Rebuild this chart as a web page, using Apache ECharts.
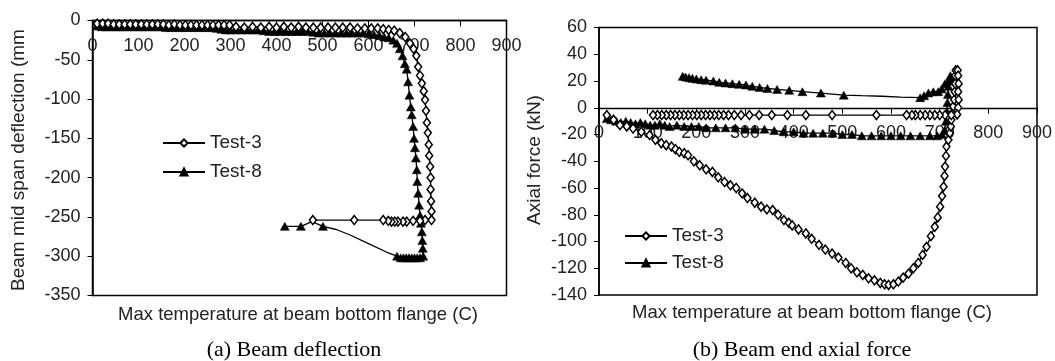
<!DOCTYPE html>
<html>
<head>
<meta charset="utf-8">
<script src="https://cdn.jsdelivr.net/npm/echarts@6/dist/echarts.min.js"></script>
<style>
html,body{margin:0;padding:0;background:#fff;}
#c{width:1055px;height:361px;}
</style>
</head>
<body>
<div id="c"></div>
<script>
// ---- data (x = max temperature at beam bottom flange, C) ----
// a third element 0 = point on the curve without a marker
const seriesNames = ['Test-3', 'Test-8'];
const xTicks = [0, 100, 200, 300, 400, 500, 600, 700, 800, 900];
const defTicks = [0, -50, -100, -150, -200, -250, -300, -350];
const forceTicks = [60, 40, 20, 0, -20, -40, -60, -80, -100, -120, -140];

// (a) Beam mid span deflection (mm)
const defTest3 = [[10,-4],[22,-4],[34,-4],[46,-5],[58,-5],[70,-5],[82,-5],[94,-5],[106,-5],[118,-5],[130,-5],[142,-5],[154,-5],[166,-6],[178,-5],[190,-6],[202,-6],[214,-6],[226,-6],[238,-6],[250,-6],[262,-6],[274,-6],[286,-6],[298,-6],[312,-8],[330,-9],[348,-8],[366,-9],[384,-8],[400,-9],[416,-8],[432,-9],[448,-8],[464,-9],[480,-9],[496,-9],[512,-9],[528,-9],[544,-9],[560,-9],[576,-10],[592,-10],[606,-10],[620,-10],[632,-11],[644,-12],[656,-13],[668,-16],[680,-21],[690,-29],[698,-36],[704,-45],[708,-59],[712,-70],[716,-80],[720,-90],[723,-101],[725,-115],[727,-130],[729,-143],[731,-158],[732,-172],[734,-186],[735,-200],[735,-215],[736,-230],[737,-243],[737,-254],[723,-254],[712,-255],[697,-255],[683,-256],[675,-256],[664,-256],[657,-256],[650,-256],[643,-255],[632,-254],[569,-254],[479,-254]];
const defTest8 = [[10,-7],[20,-8],[30,-8],[40,-8],[50,-8],[60,-8],[70,-8],[80,-8],[90,-8],[100,-8],[110,-8],[120,-8],[130,-8],[140,-8],[150,-8],[160,-9],[170,-9],[180,-9],[190,-9],[200,-9],[210,-9],[220,-9],[230,-9],[240,-9],[250,-9],[260,-9],[270,-10],[280,-11],[290,-12],[300,-12],[312,-12],[324,-12],[336,-12],[348,-12],[360,-12],[372,-13],[384,-14],[396,-14],[408,-14],[420,-14],[432,-14],[444,-14],[456,-14],[468,-14],[480,-15],[492,-16],[504,-16],[516,-16],[528,-16],[540,-16],[552,-16],[564,-16],[576,-16],[588,-16],[600,-17],[612,-18],[624,-19],[634,-21],[644,-22],[654,-25],[662,-29],[668,-36],[674,-45],[679,-55],[683,-62],[686,-78],[689,-95],[692,-110],[694,-120],[697,-135],[699,-150],[701,-162],[703,-175],[705,-190],[706,-205],[708,-220],[710,-235],[712,-248],[714,-258],[716,-269],[717,-280],[718,-290],[719,-300],[712,-302],[706,-302],[700,-302],[694,-302],[688,-302],[682,-302],[676,-302],[670,-302],[662,-300],[640,-295,0],[600,-284,0],[560,-273,0],[530,-266,0],[501,-262],[477,-256,0],[453,-262],[418,-262]];

// (b) Beam end axial force (kN)
const forceTest3 = [[16,-5.5],[30,-9],[43,-13],[57,-14],[70,-15.5],[87,-18],[104,-20.5],[116,-24],[128,-26.5],[138,-28],[149,-29],[157,-31],[165,-33],[175,-34],[183,-35.5],[195,-40],[207,-43],[220,-46],[233,-48],[245,-52],[258,-55.5],[270,-58],[282,-60],[294,-64],[305,-67.5],[320,-71],[333,-74],[345,-76],[357,-76.5],[368,-80],[380,-84],[390,-86],[397,-88],[410,-91],[425,-94],[437,-98],[452,-102.5],[465,-106],[479,-109],[492,-112],[507,-116],[518,-120],[530,-123],[542,-125],[554,-127.5],[566,-129],[578,-131],[587,-132],[595,-132.5],[605,-132],[615,-130],[625,-127],[636,-124],[646,-120],[656,-116],[665,-110],[673,-104],[682,-96],[690,-89],[696,-82],[701,-74],[705,-66],[708,-59],[710,-51],[711,-44],[713,-36],[714,-29],[718,-24],[721,-19],[723,-14],[724,-9],[726,-4],[728,1],[730,6],[731,12],[732,18],[732,24],[733,28],[737,28],[738,24],[739,18],[738,12],[739,6],[738,0],[736,-5],[724,-5.5],[711,-5.5],[700,-5.5],[690,-5.5],[680,-5.5],[670,-5.5],[660,-5.5],[650,-5.5],[643,-5.5],[632,-5.5],[570,-5.5],[479,-5.5],[425,-5.5],[387,-5.5],[355,-5.5],[329,-5.5],[309,-5.5],[292,-5.5],[278,-5.5],[266,-5.5],[256,-5.5],[246,-5.5],[237,-5.5],[228,-5.5],[219,-5.5],[210,-5.5],[201,-5.5],[192,-5.5],[183,-5.5],[174,-5.5],[165,-5.5],[156,-5.5],[147,-5.5],[138,-5.5],[129,-5.5],[120,-5.5],[111,-5.5]];
const forceTest8 = [[16,-8],[25,-9],[35,-10],[45,-11],[55,-10],[65,-11],[75,-12],[85,-11],[95,-12],[105,-13],[115,-13],[125,-12],[135,-13],[145,-14],[160,-13],[175,-14],[190,-14],[205,-14],[220,-15],[240,-15],[260,-15],[280,-15],[300,-16],[320,-16],[340,-16],[360,-17],[380,-18],[400,-18],[420,-19],[440,-19],[460,-19],[480,-19],[500,-20],[520,-20],[540,-21],[560,-21],[580,-21],[600,-21],[620,-21],[640,-21],[660,-21],[680,-21],[695,-21],[705,-20],[710,-17],[713,-10],[715,-3],[716,4],[717,10],[718,16],[720,20],[722,24],[725,22],[718,20],[711,18],[704,14],[697,12],[687,12],[677,11],[668,9],[660,7.5],[620,8,0],[581,8.6,0],[540,9,0],[503,9.4],[456,11],[418,12],[391,13],[366,13.7],[346,14.4],[330,15.2],[315,16],[302,17],[288,17.5],[274,18],[260,18.5],[247,19],[235,20],[220,20.6],[210,21],[200,21.5],[192,22],[185,22.5],[178,23],[172,23.5]];

const xTitle = 'Max temperature at beam bottom flange (C)';
const defTitle = 'Beam mid span deflection (mm';
const forceTitle = 'Axial force (kN)';
const captionA = '(a) Beam deflection';
const captionB = '(b) Beam end axial force';

// ---- build ----
const SANS = '"Liberation Sans", Arial, sans-serif';
const SERIF = '"Liberation Serif", "Times New Roman", serif';

function toData(arr) {
  return arr.map(p => p.length > 2 ? {value: [p[0], p[1]], symbol: 'none'} : [p[0], p[1]]);
}
function mkSeries(name, arr, idx) {
  const isT3 = name === 'Test-3';
  return {
    name: name, type: 'line', xAxisIndex: idx, yAxisIndex: idx,
    data: toData(arr), showAllSymbol: true,
    symbol: isT3 ? 'diamond' : 'triangle',
    symbolSize: isT3 ? [7, 9] : [9, 8],
    lineStyle: {color: '#000', width: 1.3},
    itemStyle: isT3 ? {color: '#fff', borderColor: '#000', borderWidth: 1.5}
                    : {color: '#000', borderColor: '#000', borderWidth: 0.5},
    emphasis: {disabled: true}, z: isT3 ? 3 : 2
  };
}
// x axis drawn along the value 0 of the y axis: placed at the grid top, shifted down
// by the library's pixel distance between the grid top and y = 0
function mkX(idx, margin, offset) {
  return {
    gridIndex: idx, type: 'value', position: 'top', offset: offset,
    min: xTicks[0], max: xTicks[xTicks.length - 1], interval: xTicks[1] - xTicks[0],
    axisLine: {onZero: false, lineStyle: {color: '#000', width: 1.3}},
    axisTick: {show: true, inside: true, length: 6, lineStyle: {color: '#000', width: 1}},
    axisLabel: {inside: true, color: '#222', fontSize: 18, fontFamily: SANS, margin: margin, lineHeight: 18},
    splitLine: {show: false}
  };
}
function mkY(idx, ticks) {
  const mn = Math.min.apply(null, ticks), mx = Math.max.apply(null, ticks);
  return {
    gridIndex: idx, type: 'value', min: mn, max: mx, interval: Math.abs(ticks[1] - ticks[0]),
    axisLine: {show: true, onZero: false, lineStyle: {color: '#000', width: 1.5}},
    axisTick: {show: true, length: 5, lineStyle: {color: '#000', width: 1}},
    axisLabel: {color: '#222', fontSize: 18, fontFamily: SANS, margin: 12},
    splitLine: {show: false}
  };
}
function mkLegend(left, top, gap) {
  return {
    data: seriesNames, orient: 'vertical', left: left, top: top, padding: 0,
    itemWidth: 42, itemHeight: 9, itemGap: gap, selectedMode: false,
    textStyle: {color: '#222', fontSize: 19, fontFamily: SANS, lineHeight: 19}
  };
}

const grids = [
  {left: 92.5, top: 20.5, right: 548.5, bottom: 65.5, show: true, borderColor: '#000', borderWidth: 1.5, backgroundColor: 'transparent'},
  {left: 599, top: 27.5, right: 16, bottom: 66, show: true, borderColor: '#000', borderWidth: 1.5, backgroundColor: 'transparent'}
];

const chart = echarts.init(document.getElementById('c'), null, {renderer: 'canvas'});
function build(off0, off1) {
  return {
    animation: false,
    backgroundColor: '#fff',
    grid: grids,
    xAxis: [mkX(0, 17, off0), mkX(1, 16, off1)],
    yAxis: [mkY(0, defTicks), mkY(1, forceTicks)],
    legend: [mkLegend(162, 133.5, 10), mkLegend(624, 226.5, 8)],
    series: [
      mkSeries('Test-3', defTest3, 0), mkSeries('Test-8', defTest8, 0),
      mkSeries('Test-3', forceTest3, 1), mkSeries('Test-8', forceTest8, 1)
    ],
    graphic: [
      {type: 'text', x: 18.5, y: 160, rotation: Math.PI / 2, silent: true,
       style: {text: defTitle, fill: '#222', font: '19px ' + SANS, textAlign: 'center', textVerticalAlign: 'middle'}},
      {type: 'text', x: 535, y: 160, rotation: Math.PI / 2, silent: true,
       style: {text: forceTitle, fill: '#222', font: '19px ' + SANS, textAlign: 'center', textVerticalAlign: 'middle'}},
      {type: 'text', x: 298, y: 315, silent: true,
       style: {text: xTitle, fill: '#222', font: '18.5px ' + SANS, textAlign: 'center', textVerticalAlign: 'middle'}},
      {type: 'text', x: 812, y: 313, silent: true,
       style: {text: xTitle, fill: '#222', font: '18.5px ' + SANS, textAlign: 'center', textVerticalAlign: 'middle'}},
      {type: 'text', x: 294, y: 350, silent: true,
       style: {text: captionA, fill: '#000', font: '22px ' + SERIF, textAlign: 'center', textVerticalAlign: 'middle'}},
      {type: 'text', x: 802, y: 350, silent: true,
       style: {text: captionB, fill: '#000', font: '22px ' + SERIF, textAlign: 'center', textVerticalAlign: 'middle'}}
    ]
  };
}
chart.setOption(build(0, 0));
// find where y = 0 falls, through the library's own scales
const zeroY0 = chart.convertToPixel({yAxisIndex: 0}, 0);
const zeroY1 = chart.convertToPixel({yAxisIndex: 1}, 0);
const topY0 = chart.convertToPixel({yAxisIndex: 0}, defTicks[0]);
const topY1 = chart.convertToPixel({yAxisIndex: 1}, forceTicks[0]);
chart.setOption(build(-(zeroY0 - topY0), -(zeroY1 - topY1)));
</script>
</body>
</html>
